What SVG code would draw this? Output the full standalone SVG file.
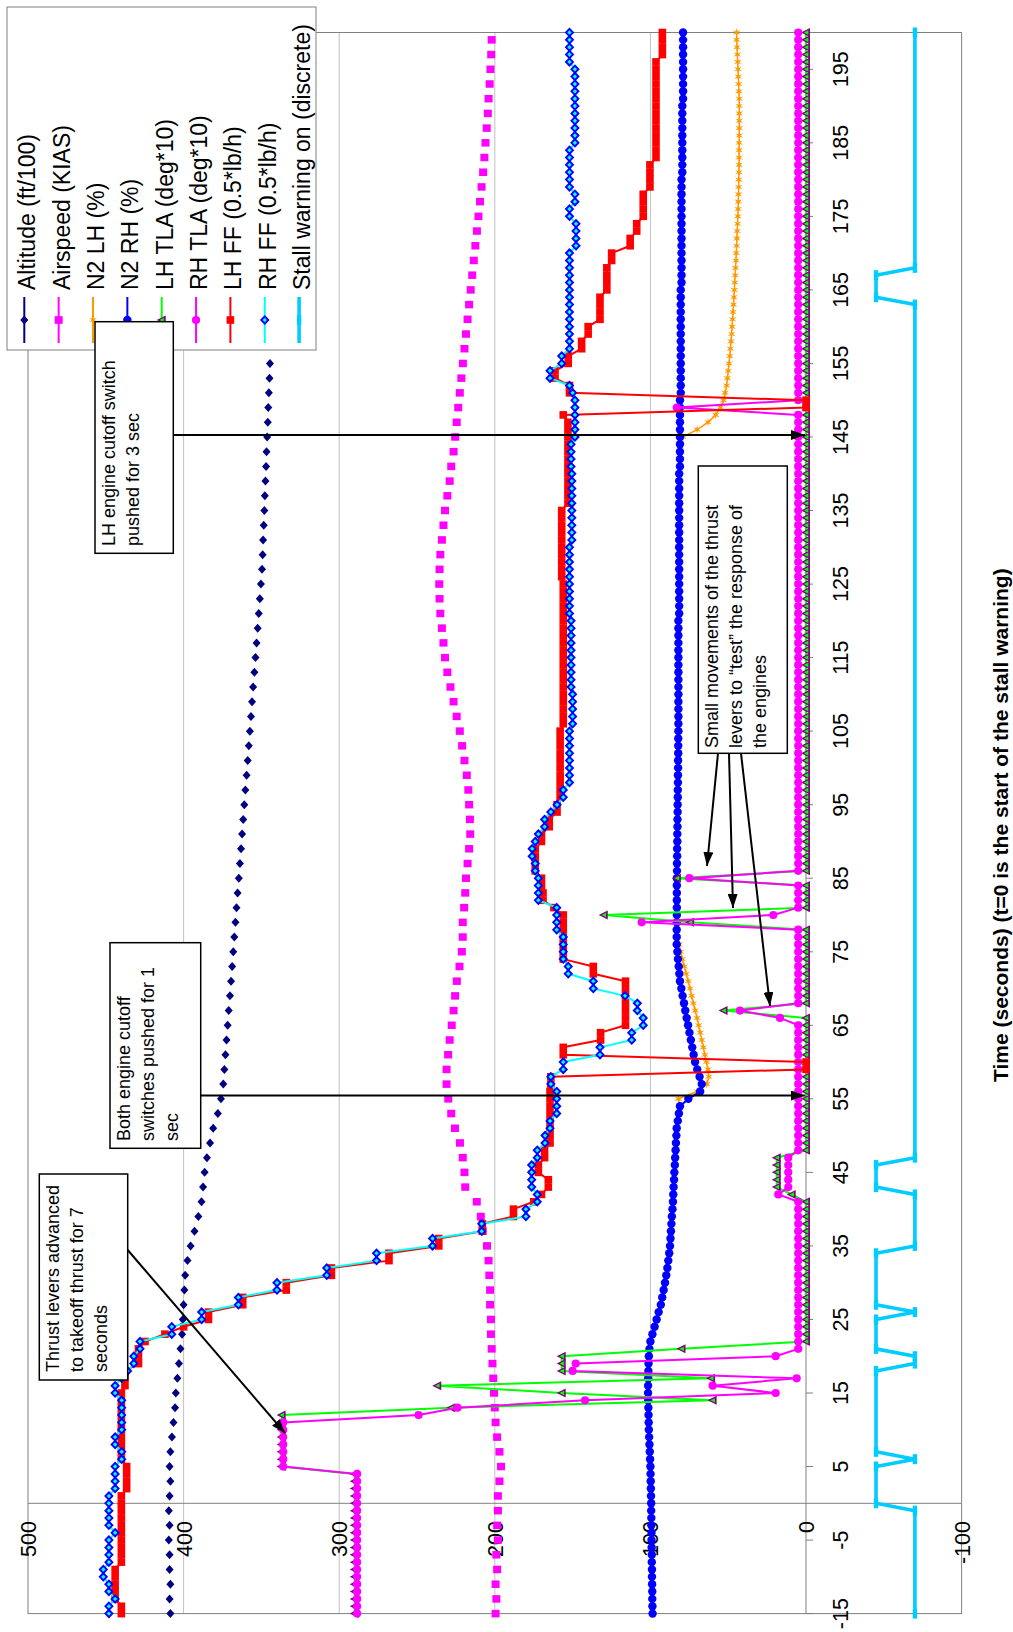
<svg xmlns="http://www.w3.org/2000/svg" width="1013" height="1632" viewBox="0 0 1013 1632">
<style>
text{font-family:"Liberation Sans",Arial,sans-serif;fill:#000}
.tick{font-size:21.5px}
.leg{font-size:23px}
.ann{font-size:18px}
.ttl{font-size:21px;font-weight:bold}
.grid{stroke:#c0c0c0;stroke-width:1}
.axis{stroke:#808080;stroke-width:1;fill:none}
.s{fill:none;stroke-linejoin:round}
.box{fill:#fff;stroke:#000;stroke-width:1.5}
.arrow{stroke:#000;stroke-width:2;fill:none}
</style>
<defs>
<marker id="mAlt" markerUnits="userSpaceOnUse" orient="0" style="overflow:visible"><polygon points="0.612,0 0,-2.571 -0.612,0 0,2.571" fill="#000080"/></marker>
<marker id="mAsp" markerUnits="userSpaceOnUse" orient="0" style="overflow:visible"><rect x="-0.51" y="-2.571" width="1.02" height="5.142" fill="#ff00ff"/></marker>
<marker id="mN2L" markerUnits="userSpaceOnUse" orient="0" style="overflow:visible"><polygon points="0.612,0 0.177,-0.482 0.306,-2.506 0,-0.964 -0.306,-2.506 -0.177,-0.482 -0.612,0 -0.177,0.482 -0.306,2.506 0,0.964 0.306,2.506 0.177,0.482" fill="#ff9900"/></marker>
<marker id="mN2R" markerUnits="userSpaceOnUse" orient="0" style="overflow:visible"><ellipse rx="0.571" ry="2.699" fill="#0000ff"/></marker>
<marker id="mLT" markerUnits="userSpaceOnUse" orient="0" style="overflow:visible"><polygon points="0,3.213 0.612,-2.571 -0.612,-2.571" fill="#800080"/><polygon points="0,1.4 0.3,-1.5 -0.3,-1.5" fill="#00ff00"/></marker>
<marker id="mRT" markerUnits="userSpaceOnUse" orient="0" style="overflow:visible"><ellipse rx="0.558" ry="2.635" fill="#ff00ff"/></marker>
<marker id="mLF" markerUnits="userSpaceOnUse" orient="0" style="overflow:visible"><rect x="-0.517" y="-2.442" width="1.034" height="4.884" fill="#ff0000"/></marker>
<marker id="mRF" markerUnits="userSpaceOnUse" orient="0" style="overflow:visible"><polygon points="0.68,0 0,-3.085 -0.68,0 0,3.085" fill="#0000ff"/><polygon points="0.3,0 0,-1.414 -0.3,0 0,1.414" fill="#00ffff"/></marker>
<marker id="mSW" markerUnits="userSpaceOnUse" orient="0" style="overflow:visible"><rect x="-0.68" y="-1.414" width="1.36" height="2.828" fill="#00ccff"/></marker>
<marker id="arr" markerUnits="userSpaceOnUse" orient="auto" markerWidth="14" markerHeight="10" refX="14" refY="5" viewBox="0 0 14 10"><path d="M0,0L14,5L0,10z" fill="#000"/></marker>
</defs>
<rect x="0" y="0" width="1013" height="1632" fill="#fff"/>
<g id="plot-frame">
<line class="grid" x1="183.6" y1="32.5" x2="183.6" y2="1613.6"/>
<line class="grid" x1="339.2" y1="32.5" x2="339.2" y2="1613.6"/>
<line class="grid" x1="494.8" y1="32.5" x2="494.8" y2="1613.6"/>
<line class="grid" x1="650.4" y1="32.5" x2="650.4" y2="1613.6"/>
<rect class="axis" x="28" y="32.5" width="933.6" height="1581.1"/>
<line class="axis" x1="806" y1="32.5" x2="806" y2="1613.6"/>
<line class="axis" x1="28" y1="1503.3" x2="961.6" y2="1503.3"/>
<path class="axis" d="M806,1613.6h7M806,1540.1h7M806,1466.5h7M806,1393h7M806,1319.5h7M806,1245.9h7M806,1172.4h7M806,1098.8h7M806,1025.3h7M806,951.8h7M806,878.2h7M806,804.7h7M806,731.1h7M806,657.6h7M806,584.1h7M806,510.5h7M806,437h7M806,363.4h7M806,289.9h7M806,216.4h7M806,142.8h7M806,69.3h7"/>
</g>
<g id="value-labels" class="tick" text-anchor="end">
<text transform="translate(36,1521) rotate(-90)">500</text>
<text transform="translate(191.6,1521) rotate(-90)">400</text>
<text transform="translate(347.2,1521) rotate(-90)">300</text>
<text transform="translate(502.8,1521) rotate(-90)">200</text>
<text transform="translate(658.4,1521) rotate(-90)">100</text>
<text transform="translate(814,1521) rotate(-90)">0</text>
<text transform="translate(969.6,1521) rotate(-90)">-100</text>
</g>
<g id="time-labels" class="tick" text-anchor="middle">
<text transform="translate(848,1613.6) rotate(-90)">-15</text>
<text transform="translate(848,1540.1) rotate(-90)">-5</text>
<text transform="translate(848,1466.5) rotate(-90)">5</text>
<text transform="translate(848,1393) rotate(-90)">15</text>
<text transform="translate(848,1319.5) rotate(-90)">25</text>
<text transform="translate(848,1245.9) rotate(-90)">35</text>
<text transform="translate(848,1172.4) rotate(-90)">45</text>
<text transform="translate(848,1098.8) rotate(-90)">55</text>
<text transform="translate(848,1025.3) rotate(-90)">65</text>
<text transform="translate(848,951.8) rotate(-90)">75</text>
<text transform="translate(848,878.2) rotate(-90)">85</text>
<text transform="translate(848,804.7) rotate(-90)">95</text>
<text transform="translate(848,731.1) rotate(-90)">105</text>
<text transform="translate(848,657.6) rotate(-90)">115</text>
<text transform="translate(848,584.1) rotate(-90)">125</text>
<text transform="translate(848,510.5) rotate(-90)">135</text>
<text transform="translate(848,437) rotate(-90)">145</text>
<text transform="translate(848,363.4) rotate(-90)">155</text>
<text transform="translate(848,289.9) rotate(-90)">165</text>
<text transform="translate(848,216.4) rotate(-90)">175</text>
<text transform="translate(848,142.8) rotate(-90)">185</text>
<text transform="translate(848,69.3) rotate(-90)">195</text>
</g>
<text id="axis-title" class="ttl" transform="translate(1008,1082) rotate(-90)">Time (seconds) (t=0 is the start of the stall warning)</text>
<g id="series" transform="matrix(0 -7.354 -1.556 0 806 1503.3)">
<polyline id="altitude" class="s" stroke="none" marker-start="url(#mAlt)" marker-mid="url(#mAlt)" marker-end="url(#mAlt)" points="-15,408.5 -13,409 -11,408.5 -9,409 -7,409 -5,409.5 -3,409 -1,409.5 1,409 3,408.5 5,409 7,408.5 9,407.5 11,406.5 13,405.5 15,405 17,404 19,403 21,402 23,401 25,400.5 27,400 29,399.5 31,399 33,397.5 35,395.5 37,393 39,390.5 41,388.5 43,387.5 45,386.5 47,385 49,383 51,381 53,378 55,376 57,374.5 59,373.8 61,373.1 63,372.4 65,371.7 67,371 69,370.2 71,369.5 73,368.8 75,368.1 77,367.4 79,366.7 81,366 83,365.3 85,364.5 87,363.8 89,363.1 91,362.4 93,361.7 95,361 97,360.3 99,359.5 101,358.8 103,358.1 105,357.4 107,356.7 109,356 111,355.3 113,354.5 115,353.8 117,353.1 119,352.4 121,351.7 123,351 125,350.3 127,349.6 129,349.2 131,348.9 133,348.5 135,348.1 137,347.8 139,347.4 141,347 143,346.7 145,346.3 147,345.9 149,345.6 151,345.2 153,344.8 155,344.5"/>
<polyline id="airspeed" class="s" stroke="none" marker-start="url(#mAsp)" marker-mid="url(#mAsp)" marker-end="url(#mAsp)" points="-15,199.5 -13,199 -11,199.5 -9,198.5 -7,199 -5,198 -3,198.5 -1,198 1,198 3,197 5,196 7,197 9,198.5 11,199.5 13,200 15,200.5 17,201 19,201.5 21,202 23,202.5 25,202.5 27,203 29,203 31,203.5 33,204 35,205 37,207.8 39,209 41,211.6 43,219 45,219.5 47,220.6 49,222.4 51,225.6 53,228 55,229.9 57,231 59,231 61,230 63,229 65,227.7 67,226.5 69,225.5 71,224.4 73,222.7 75,221.2 77,220.6 79,220.6 81,219.7 83,219 85,218.5 87,217.5 89,216.5 91,215.8 93,216 95,216.5 97,217 99,218 101,219.5 103,221 105,222.5 107,224.5 109,226.5 111,228.5 113,230.5 115,232 117,233 119,234 121,235 123,235.5 125,235.7 127,235.5 129,235 131,234 133,233 135,232 137,230.5 139,229 141,228 143,226.5 145,225.5 147,224.5 149,223.5 151,222.5 153,221.5 155,220.5 157,219.5 159,218.5 161,217.5 163,216.5 165,215.5 167,214.5 169,213.5 171,212.5 173,211.5 175,210.5 177,209.5 179,208.5 181,207.5 183,206.7 185,206 187,205.2 189,204.5 191,204 193,203.3 195,202.8 197,202.3 199,202"/>
<polyline id="n2-lh" class="s" stroke="#ff9900" stroke-width="1.5" vector-effect="non-scaling-stroke" marker-start="url(#mN2L)" marker-mid="url(#mN2L)" marker-end="url(#mN2L)" points="-15,98.6 -5,99.3 5,100 15,101.5 20,101 22,100 25,96 28,92.4 31,89.8 35,87.4 42,85.3 51,83.1 53,81.7 54,81 55,82 56,70 57,63.8 58,62.5 59,63 60,64 61,65 62,66 63,67 64,68 65,69 66,70 67,71.2 68,72.4 69,73.5 70,74.5 71,75.7 72,77 73,78.2 74,79.5 75,80.5 76,81.5 77,82.3 78,83 80,83 85,83 90,82.7 95,82.5 100,82.2 110,82 120,82 130,81.5 140,81.5 144,81 145,79 146,70 147,63 148,58 149,55 150,53 151,52 152,51 153,50.5 154,50 155,49.5 156,49 157,48.6 158,48.2 159,47.8 160,47.5 161,47.2 162,46.9 163,46.6 164,46.3 165,46 166,45.8 167,45.5 168,45.3 169,45 170,44.8 171,44.6 172,44.4 173,44.2 174,44 175,43.8 176,43.6 177,43.5 178,43.4 179,43.3 180,43.2 181,43.1 182,43 183,43 184,43 185,43 186,42.9 187,42.9 188,42.9 189,42.9 190,42.9 191,42.9 192,43.1 193,43.3 194,43.5 195,43.7 196,43.9 197,44.1 198,44.3 199,44.5 200,44.6"/>
<polyline id="n2-rh" class="s" stroke="#0000ff" stroke-width="2" vector-effect="non-scaling-stroke" marker-start="url(#mN2R)" marker-mid="url(#mN2R)" marker-end="url(#mN2R)" points="-15,98.6 -14,98.7 -13,98.8 -12,98.8 -11,98.9 -10,99 -9,99 -8,99.1 -7,99.1 -6,99.2 -5,99.3 -4,99.3 -3,99.4 -2,99.4 -1,99.5 0,99.5 1,99.6 2,99.7 3,99.8 4,99.9 5,100 6,100.2 7,100.4 8,100.6 9,100.8 10,101 11,101.1 12,101.2 13,101.3 14,101.4 15,101.5 16,101.5 17,101.4 18,101.3 19,101.2 20,101 21,100.6 22,100 23,98.7 24,97.3 25,96 26,94.7 27,93.3 28,92.4 29,91.5 30,90.6 31,89.8 32,89.1 33,88.5 34,87.9 35,87.4 36,87.1 37,86.8 38,86.5 39,86.2 40,85.8 41,85.5 42,85.3 43,85.1 44,84.8 45,84.6 46,84.3 47,84.1 48,83.8 49,83.6 50,83.3 51,83.1 52,82.4 53,81.7 54,81 55,75.6 56,68 57,67 58,68.4 59,69.9 60,71.3 61,72.2 62,73.1 63,74 64,74.9 65,75.8 66,76.7 67,77.6 68,78.4 69,79.3 70,80.1 71,81 72,81.4 73,81.8 74,82.3 75,82.7 76,83.1 77,83.1 78,83.1 79,83 80,83 81,83 82,83 83,83 84,83 85,83 86,82.9 87,82.9 88,82.8 89,82.8 90,82.7 91,82.7 92,82.6 93,82.6 94,82.5 95,82.5 96,82.4 97,82.4 98,82.3 99,82.3 100,82.2 101,82.2 102,82.1 103,82.1 104,82.1 105,82 106,82 107,82 108,82 109,82 110,82 111,82 112,82 113,82 114,82 115,82 116,82 117,82 118,82 119,82 120,82 121,81.5 122,81.5 123,81.5 124,81.5 125,81.5 126,81.5 127,81.5 128,81.5 129,81.5 130,81.5 131,81.5 132,81.5 133,81.5 134,81.5 135,81.5 136,81.5 137,81.5 138,81.5 139,81.5 140,81.5 141,81 142,81 143,81 144,81 145,81 146,81 147,81 148,81 149,81 150,81 151,80.5 152,80.5 153,80.5 154,80.5 155,80.5 156,80.5 157,80.5 158,80.5 159,80.5 160,80.5 161,80.5 162,80.5 163,80.5 164,80.5 165,80.5 166,80 167,80 168,80 169,80 170,80 171,80 172,80 173,80 174,80 175,80 176,80 177,80 178,80 179,80 180,80 181,79.5 182,79.5 183,79.5 184,79.5 185,79.5 186,79.5 187,79.5 188,79.5 189,79.5 190,79.5 191,79 192,79 193,79 194,79 195,79 196,79 197,79 198,79 199,79 200,79"/>
<polyline id="lh-tla" class="s" stroke="#00ff00" stroke-width="2" vector-effect="non-scaling-stroke" marker-start="url(#mLT)" marker-mid="url(#mLT)" marker-end="url(#mLT)" points="-15,290 -14,290 -13,290 -12,290 -11,290 -10,290 -9,290 -8,290 -7,290 -6,290 -5,290 -4,290 -3,290 -2,290 -1,290 0,290 1,290 2,290 3,290 4,290 5,337 6,337 7,337 8,337 9,337 10,337 11,337 12,337 13,228 14,60 15,157 16,237 17,61 18,157 19,157 20,157 21,80 22,0 23,0 24,0 25,0 26,0 27,0 28,0 29,0 30,0 31,0 32,0 33,0 34,0 35,0 36,0 37,0 38,0 39,0 40,0 41,0 42,9.2 43,18.8 44,18.8 45,18.8 46,18.8 47,18.8 48,0 49,0 50,0 51,0 52,0 53,0 54,0 55,0 56,0 57,0 58,0 59,0 60,0 61,0 62,0 63,0 64,0 65,0 66,0 67,53 68,0 69,0 70,0 71,0 72,0 73,0 74,0 75,0 76,0 77,0 78,0 79,74.5 80,130 81,0 82,0 83,0 84,0 85,83 86,0 87,0 88,0 89,0 90,0 91,0 92,0 93,0 94,0 95,0 96,0 97,0 98,0 99,0 100,0 101,0 102,0 103,0 104,0 105,0 106,0 107,0 108,0 109,0 110,0 111,0 112,0 113,0 114,0 115,0 116,0 117,0 118,0 119,0 120,0 121,0 122,0 123,0 124,0 125,0 126,0 127,0 128,0 129,0 130,0 131,0 132,0 133,0 134,0 135,0 136,0 137,0 138,0 139,0 140,0 141,0 142,0 143,0 144,0 145,0 146,0 147,0 148,0 149,0 150,0 151,0 152,0 153,0 154,0 155,0 156,0 157,0 158,0 159,0 160,0 161,0 162,0 163,0 164,0 165,0 166,0 167,0 168,0 169,0 170,0 171,0 172,0 173,0 174,0 175,0 176,0 177,0 178,0 179,0 180,0 181,0 182,0 183,0 184,0 185,0 186,0 187,0 188,0 189,0 190,0 191,0 192,0 193,0 194,0 195,0 196,0 197,0 198,0 199,0 200,0"/>
<polyline id="rh-tla" class="s" stroke="#ff00ff" stroke-width="2" vector-effect="non-scaling-stroke" marker-start="url(#mRT)" marker-mid="url(#mRT)" marker-end="url(#mRT)" points="-15,288.5 -14,288.5 -13,288.5 -12,288.5 -11,288.5 -10,288.5 -9,288.5 -8,288.5 -7,288.5 -6,288.5 -5,288.5 -4,288.5 -3,288.5 -2,288.5 -1,288.5 0,288.5 1,288.5 2,288.5 3,288.5 4,288.5 5,336 6,336 7,336 8,336 9,336 10,336 11,336 12,249 13,224 14,142 15,19.5 16,60 17,6 18,150 19,148 20,19.5 21,5 22,5 23,5 24,5 25,5 26,5 27,5 28,5 29,5 30,5 31,5 32,5 33,5 34,5 35,5 36,5 37,5 38,5 39,5 40,5 41,5 42,17.8 43,11.4 44,11.4 45,11.4 46,11.4 47,11.4 48,5 49,5 50,5 51,5 52,5 53,5 54,5 55,5 56,5 57,5 58,5 59,5 60,5 61,5 62,5 63,5 64,5 65,5 66,16.7 67,42.4 68,5 69,5 70,5 71,5 72,5 73,5 74,5 75,5 76,5 77,5 78,5 79,105.6 80,21 81,5 82,5 83,5 84,5 85,75 86,5 87,5 88,5 89,5 90,5 91,5 92,5 93,5 94,5 95,5 96,5 97,5 98,5 99,5 100,5 101,5 102,5 103,5 104,5 105,5 106,5 107,5 108,5 109,5 110,5 111,5 112,5 113,5 114,5 115,5 116,5 117,5 118,5 119,5 120,5 121,5 122,5 123,5 124,5 125,5 126,5 127,5 128,5 129,5 130,5 131,5 132,5 133,5 134,5 135,5 136,5 137,5 138,5 139,5 140,5 141,5 142,5 143,5 144,5 145,5 146,5 147,5 148,5 149,83 150,5 151,5 152,5 153,5 154,5 155,5 156,5 157,5 158,5 159,5 160,5 161,5 162,5 163,5 164,5 165,5 166,5 167,5 168,5 169,5 170,5 171,5 172,5 173,5 174,5 175,5 176,5 177,5 178,5 179,5 180,5 181,5 182,5 183,5 184,5 185,5 186,5 187,5 188,5 189,5 190,5 191,5 192,5 193,5 194,5 195,5 196,5 197,5 198,5 199,5 200,5"/>
<polyline id="lh-ff" class="s" stroke="#ff0000" stroke-width="2" vector-effect="non-scaling-stroke" marker-start="url(#mLF)" marker-mid="url(#mLF)" marker-end="url(#mLF)" points="-15,440 -14,440 -13,444 -12,444 -11,444 -10,444 -9,444 -8,440 -7,440 -6,440 -5,440 -4,440 -3,440 -2,440 -1,440 0,440 1,440 2,436.6 3,436.6 4,436.6 5,436.6 6,440 7,440 8,440 9,440 10,440 11,440 12,440 13,440 14,440 15,440 16,437.7 17,437.7 18,437.7 19,429 20,429 21,429 22,424.8 23,412 24,400 25,384 26,384 27,362 28,362 29,334 30,334 31,305 32,305 33,268 34,268 35,236 36,236 37,208 38,208 39,188 40,188 41,175 42,170 43,165.6 44,165.6 45,172 46,172 47,168 48,168 49,164.5 50,164.5 51,164.5 52,164.5 53,164.5 54,164.5 55,164.5 56,164.5 57,164 58,164 59,0 60,0 61,156 62,156 63,132 64,132 65,116 66,116 67,116 68,116 69,116 70,116 71,116 72,136.7 73,136.7 74,156 75,156 76,156 77,156 78,156 79,156 80,156 81,162 82,169 83,169 84,170 85,170 86,174 87,174 88,174 89,174 90,170 91,170 92,165 93,165 94,160 95,160 96,158 97,158 98,158 99,158 100,158 101,158 102,158 103,158 104,158 105,158 106,156 107,156 108,156 109,156 110,156 111,156 112,156 113,156 114,156 115,156 116,156 117,156 118,156 119,156 120,156 121,156 122,156 123,156 124,156 125,156 126,157 127,157 128,157 129,157 130,157 131,157 132,157 133,157 134,157 135,157 136,153 137,153 138,153 139,153 140,153 141,153 142,153 143,153 144,153 145,153 146,153 147,153 148,156 149,0 150,0 151,152 152,152 153,161.3 154,161.3 155,152.8 156,152.8 157,144.2 158,144.2 159,140 160,140 161,132.4 162,132.4 163,132.4 164,132.4 165,128 166,128 167,128 168,128 169,124.9 170,124.9 171,113 172,113 173,108.8 174,108.8 175,104.6 176,104.6 177,104.6 178,104.6 179,100.3 180,100.3 181,100.3 182,100.3 183,96.4 184,96.4 185,96.4 186,96.4 187,96.4 188,96.4 189,96.4 190,96.4 191,96.4 192,96.4 193,96.4 194,96.4 195,96.4 196,96.4 197,92.3 198,92.3 199,92.3 200,92.3"/>
<polyline id="rh-ff" class="s" stroke="#00ffff" stroke-width="2" vector-effect="non-scaling-stroke" marker-start="url(#mRF)" marker-mid="url(#mRF)" marker-end="url(#mRF)" points="-15,448 -14,448 -13,444 -12,448 -11,448 -10,451.6 -9,451.6 -8,448 -7,448 -6,448 -5,448 -4,444 -3,448 -2,448 -1,448 0,448 1,448 2,444 3,444 4,444 5,444 6,439.8 7,439.8 8,444 9,444 10,439.8 11,439.8 12,439.8 13,439.8 14,439.8 15,444 16,444 17,439.8 18,436 19,432 20,432 21,428 22,428 23,407.6 24,407.6 25,388.4 26,388.4 27,364.8 28,364.8 29,340 30,340 31,308 32,308 33,276 34,276 35,240 36,240 37,208.4 38,208.4 39,180 40,180 41,172.7 42,172.7 43,176.3 44,176.3 45,176.3 46,176.3 47,172.7 48,172.7 49,167.7 50,167.7 51,164.5 52,164.5 53,160.2 54,160.2 55,160.2 56,160.2 57,164 58,164 59,156 60,156 61,132.4 62,132.4 63,112 64,112 65,104.6 66,104.6 67,108.4 68,108.4 69,116.3 70,136.7 71,136.7 72,152.8 73,152.8 74,156 75,156 76,156 77,156 78,160.2 79,160.2 80,160.2 81,160.2 82,172 83,172 84,172 85,172 86,174 87,174 88,176 89,176 90,174 91,172 92,168 93,168 94,164 95,160 96,156 97,156 98,152 99,152 100,152 101,152 102,152 103,152 104,152 105,152 106,150 107,150 108,150 109,150 110,150 111,151 112,151 113,151 114,151 115,151 116,151 117,151 118,151 119,151 120,151 121,152 122,152 123,152 124,152 125,152 126,152 127,152 128,152 129,152 130,152 131,150.5 132,150.5 133,150.5 134,150.5 135,150.5 136,150.5 137,150.5 138,150.5 139,150.5 140,150.5 141,151 142,151 143,151 144,151 145,148.5 146,148.5 147,148.5 148,148.5 149,148.5 150,148.5 151,150 152,152 153,164.5 154,164.5 155,157 156,157 157,152 158,152 159,152 160,152 161,152 162,152 163,152 164,152 165,152 166,152 167,152 168,152 169,152 170,152 171,147.8 172,147.8 173,147.8 174,147.8 175,152 176,152 177,148.5 178,148.5 179,152 180,152 181,152 182,152 183,152 184,152 185,148.5 186,148.5 187,148.5 188,148.5 189,148.5 190,148.5 191,148.5 192,148.5 193,148.5 194,148.5 195,148.5 196,152 197,152 198,152 199,152 200,152"/>
<polyline id="stall" class="s" stroke="#00ccff" stroke-width="3.6" vector-effect="non-scaling-stroke" marker-start="url(#mSW)" marker-mid="url(#mSW)" marker-end="url(#mSW)" points="-15,-70 -1,-70 0,-45 5,-45 6,-70 7,-45 18,-45 19,-70 20,-70 21,-45 25,-45 26,-70 27,-45 34,-45 35,-70 42,-70 43,-45 46,-45 47,-70 163,-70 164,-45 167,-45 168,-70 200,-70"/>
</g>
<g id="legend">
<rect x="7" y="7" width="309" height="343" fill="#fff" stroke="#808080" stroke-width="1"/>
<g stroke-width="2">
<line x1="24.3" y1="297" x2="24.3" y2="343" stroke="#000080"/>
<line x1="58.65" y1="297" x2="58.65" y2="343" stroke="#ff00ff"/>
<line x1="93" y1="297" x2="93" y2="343" stroke="#ff9900"/>
<line x1="127.35" y1="297" x2="127.35" y2="343" stroke="#0000ff"/>
<line x1="161.7" y1="297" x2="161.7" y2="343" stroke="#00ff00"/>
<line x1="196.05" y1="297" x2="196.05" y2="343" stroke="#ff00ff"/>
<line x1="230.4" y1="297" x2="230.4" y2="343" stroke="#ff0000"/>
<line x1="264.75" y1="297" x2="264.75" y2="343" stroke="#00ffff"/>
<line x1="299.1" y1="297" x2="299.1" y2="343" stroke="#00ccff" stroke-width="3.6"/>
</g>
<polygon points="24.3,315.5 28.3,320 24.3,324.5 20.3,320" fill="#000080"/>
<rect x="54.65" y="316.2" width="8" height="7.6" fill="#ff00ff"/>
<polygon points="93,315.5 93.75,318.7 96.9,317.75 94.5,320 96.9,322.25 93.75,321.3 93,324.5 92.25,321.3 89.1,322.25 91.5,320 89.1,317.75 92.25,318.7" fill="#ff9900"/>
<circle cx="127.35" cy="320" r="4.2" fill="#0000ff"/>
<polygon points="156.7,320 165.7,315.5 165.7,324.5" fill="#800080"/>
<polygon points="159.5,320 163.9,317.7 163.9,322.3" fill="#00ff00"/>
<circle cx="196.05" cy="320" r="4.1" fill="#ff00ff"/>
<rect x="226.6" y="316.2" width="7.6" height="7.6" fill="#ff0000"/>
<polygon points="264.75,315 269.55,320 264.75,325 259.95,320" fill="#0000ff"/>
<polygon points="264.75,317.8 266.95,320 264.75,322.2 262.55,320" fill="#00ffff"/>
<rect x="296.9" y="315" width="4.4" height="10" fill="#00ccff"/>
<g class="leg">
<text transform="translate(35.3,290) rotate(-90)">Altitude (ft/100)</text>
<text transform="translate(69.65,290) rotate(-90)">Airspeed (KIAS)</text>
<text transform="translate(104,290) rotate(-90)">N2 LH (%)</text>
<text transform="translate(138.35,290) rotate(-90)">N2 RH (%)</text>
<text transform="translate(172.7,290) rotate(-90)">LH TLA (deg*10)</text>
<text transform="translate(207.05,290) rotate(-90)">RH TLA (deg*10)</text>
<text transform="translate(241.4,290) rotate(-90)">LH FF (0.5*lb/h)</text>
<text transform="translate(275.75,290) rotate(-90)">RH FF (0.5*lb/h)</text>
<text transform="translate(310.1,290) rotate(-90)">Stall warning on (discrete)</text>
</g>
</g>
<g id="connectors" class="arrow" marker-end="url(#arr)">
<line x1="173.3" y1="435" x2="805" y2="435"/>
<line x1="200.7" y1="1095.5" x2="805" y2="1095.5"/>
<line x1="127.7" y1="1250" x2="285" y2="1433"/>
<line x1="718" y1="753.3" x2="707" y2="866"/>
<line x1="729" y1="753.3" x2="733" y2="908"/>
<line x1="741" y1="753.3" x2="770" y2="1006"/>
</g>
<g id="note-lh-cutoff">
<rect class="box" x="95" y="321.7" width="78.3" height="231.6"/>
<text class="ann" transform="translate(115,546) rotate(-90)">LH engine cutoff switch</text>
<text class="ann" transform="translate(139,546) rotate(-90)">pushed for 3 sec</text>
</g>
<g id="note-both-cutoff">
<rect class="box" x="110" y="942.7" width="90.7" height="205.6"/>
<text class="ann" transform="translate(130,1141) rotate(-90)">Both engine cutoff</text>
<text class="ann" transform="translate(154,1141) rotate(-90)">switches pushed for 1</text>
<text class="ann" transform="translate(178,1141) rotate(-90)">sec</text>
</g>
<g id="note-thrust-levers">
<rect class="box" x="39.3" y="1174" width="88.4" height="206"/>
<text class="ann" transform="translate(59.3,1372) rotate(-90)">Thrust levers advanced</text>
<text class="ann" transform="translate(83.3,1372) rotate(-90)">to takeoff thrust for 7</text>
<text class="ann" transform="translate(107.3,1372) rotate(-90)">seconds</text>
</g>
<g id="note-small-movements">
<rect class="box" x="698.3" y="466" width="89" height="287.3"/>
<text class="ann" transform="translate(718.3,748) rotate(-90)">Small movements of the thrust</text>
<text class="ann" transform="translate(742.3,748) rotate(-90)">levers to “test” the response of</text>
<text class="ann" transform="translate(766.3,748) rotate(-90)">the engines</text>
</g>
</svg>
